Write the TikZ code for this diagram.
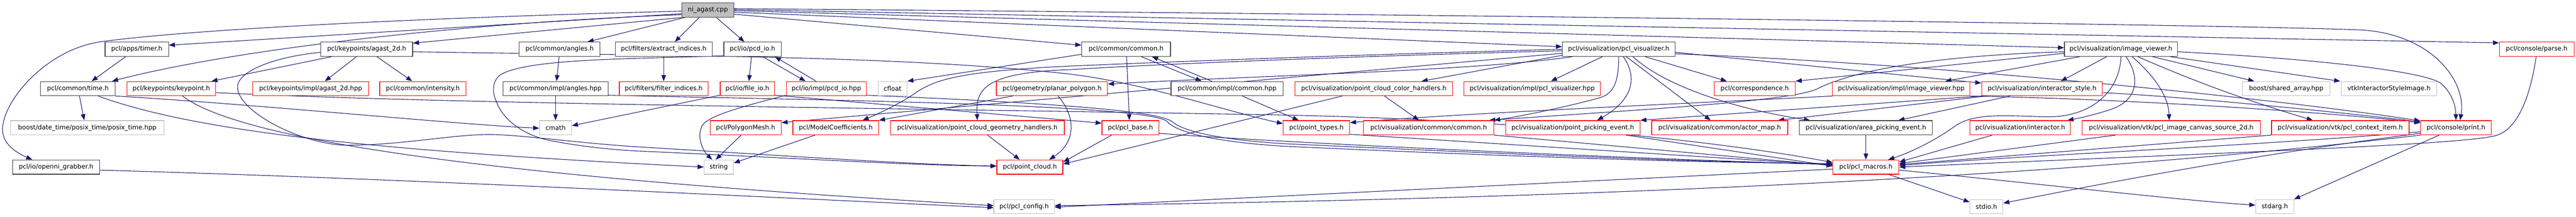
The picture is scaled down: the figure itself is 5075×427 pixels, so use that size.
\documentclass[tikz,border=0pt]{standalone}
\usepackage{fontspec}
\setmainfont{DejaVu Sans}
\usetikzlibrary{arrows.meta}
\pgfdeclarelayer{bg}
\pgfsetlayers{bg,main}
\definecolor{edgec}{HTML}{191970}
\definecolor{grayb}{HTML}{BFBFBF}
\definecolor{blkb}{HTML}{404040}
\tikzset{
 nd/.style={draw, rectangle, line width=1.2pt, minimum height=28pt, inner sep=0pt, fill=white, text=black, font=\fontsize{12.5pt}{14pt}\selectfont},
 blk/.style={nd, draw=blkb},
 redb/.style={nd, draw=red},
 gryb/.style={nd, draw=grayb},
 rootb/.style={nd, draw=blkb, fill=grayb},
 dep/.style={draw=edgec, line width=1.1pt, -{Triangle[length=12pt,width=9pt]}},
}
\begin{document}
\begin{tikzpicture}[x=1pt,y=-1pt]
\useasboundingbox (0,0) rectangle (5075,427);
% root
\node[rootb, minimum width=103pt] (R) at (1394.5,20) {ni\_agast.cpp};
% row 1
\node[blk, minimum width=125pt] (timer) at (269.5,97) {pcl/apps/timer.h};
\node[blk, minimum width=181pt] (agast2d) at (722.5,97) {pcl/keypoints/agast\_2d.h};
\node[blk, minimum width=159pt] (angles) at (1102.5,97) {pcl/common/angles.h};
\node[blk, minimum width=191pt] (extract) at (1307.5,97) {pcl/filters/extract\_indices.h};
\node[blk, minimum width=113pt] (pcdio) at (1482.5,97) {pcl/io/pcd\_io.h};
\node[blk, minimum width=175pt] (common) at (2218.5,97) {pcl/common/common.h};
\node[blk, minimum width=222pt] (pclvis) at (3189,97) {pcl/visualization/pcl\_visualizer.h};
\node[blk, minimum width=223pt] (imgview) at (4178.5,97) {pcl/visualization/image\_viewer.h};
\node[redb, minimum width=147pt] (parse) at (4997.5,97) {pcl/console/parse.h};
% row 2
\node[blk, minimum width=147pt] (time) at (153.5,174.5) {pcl/common/time.h};
\node[redb, minimum width=175pt] (keypoint) at (337.5,174.5) {pcl/keypoints/keypoint.h};
\node[redb, minimum width=228pt] (agasthpp) at (612,174.5) {pcl/keypoints/impl/agast\_2d.hpp};
\node[redb, minimum width=170pt] (intensity) at (833,174.5) {pcl/common/intensity.h};
\node[blk, minimum width=207pt] (angleshpp) at (1094.5,174.5) {pcl/common/impl/angles.hpp};
\node[redb, minimum width=175pt] (filterind) at (1307.5,174.5) {pcl/filters/filter\_indices.h};
\node[redb, minimum width=107pt] (fileio) at (1472.5,174.5) {pcl/io/file\_io.h};
\node[redb, minimum width=158pt] (pcdhpp) at (1628,174.5) {pcl/io/impl/pcd\_io.hpp};
\node[gryb, minimum width=57pt] (cfloat) at (1758.5,174.5) {cfloat};
\node[redb, minimum width=219pt] (planar) at (2072.5,174.5) {pcl/geometry/planar\_polygon.h};
\node[blk, minimum width=221pt] (commonhpp) at (2417.5,174.5) {pcl/common/impl/common.hpp};
\node[redb, minimum width=311pt] (colorh) at (2706.5,174.5) {pcl/visualization/point\_cloud\_color\_handlers.h};
\node[redb, minimum width=269pt] (vishpp) at (3018.5,174.5) {pcl/visualization/impl/pcl\_visualizer.hpp};
\node[redb, minimum width=160pt] (corresp) at (3457,174.5) {pcl/correspondence.h};
\node[redb, minimum width=271pt] (imghpp) at (3745.5,174.5) {pcl/visualization/impl/image\_viewer.hpp};
\node[redb, minimum width=238pt] (istyle) at (4023,174.5) {pcl/visualization/interactor\_style.h};
\node[gryb, minimum width=172pt] (sharr) at (4504,174.5) {boost/shared\_array.hpp};
\node[gryb, minimum width=187pt] (vtkisi) at (4706.5,174.5) {vtkInteractorStyleImage.h};
% row 3
\node[gryb, minimum width=302pt] (posix) at (172,251.5) {boost/date\_time/posix\_time/posix\_time.hpp};
\node[gryb, minimum width=63pt] (cmath) at (1094.5,251.5) {cmath};
\node[redb, minimum width=140pt] (polymesh) at (1469,251.5) {pcl/PolygonMesh.h};
\node[redb, minimum width=169pt] (modelcoef) at (1646.5,251.5) {pcl/ModelCoefficients.h};
\node[redb, minimum width=343pt] (geomh) at (1925.5,251.5) {pcl/visualization/point\_cloud\_geometry\_handlers.h};
\node[redb, minimum width=112pt] (pclbase) at (2227,251.5) {pcl/pcl\_base.h};
\node[redb, minimum width=131pt] (ptypes) at (2593.5,251.5) {pcl/point\_types.h};
\node[redb, minimum width=257pt] (viscommon) at (2814.5,251.5) {pcl/visualization/common/common.h};
\node[redb, minimum width=265pt] (pickev) at (3098.5,251.5) {pcl/visualization/point\_picking\_event.h};
\node[redb, minimum width=268pt] (actormap) at (3388,251.5) {pcl/visualization/common/actor\_map.h};
\node[blk, minimum width=262pt] (areapick) at (3676,251.5) {pcl/visualization/area\_picking\_event.h};
\node[redb, minimum width=198pt] (interactor) at (3980,251.5) {pcl/visualization/interactor.h};
\node[redb, minimum width=351pt] (canvas) at (4277.5,251.5) {pcl/visualization/vtk/pcl\_image\_canvas\_source\_2d.h};
\node[redb, minimum width=271pt] (ctxitem) at (4610.5,251.5) {pcl/visualization/vtk/pcl\_context\_item.h};
\node[redb, minimum width=139pt] (print) at (4838.5,251.5) {pcl/console/print.h};
% row 4
\node[blk, minimum width=171pt] (openni) at (110.5,329) {pcl/io/openni\_grabber.h};
\node[gryb, minimum width=58pt] (string) at (1416,329) {string};
\node[redb, minimum width=130pt] (ptcloud) at (2029,329) {pcl/point\_cloud.h};
\node[redb, minimum width=130pt] (macros) at (3676,329) {pcl/pcl\_macros.h};
% row 5
\node[gryb, minimum width=119pt] (config) at (2017.5,407) {pcl/pcl\_config.h};
\node[gryb, minimum width=65pt] (stdio) at (3913.5,407) {stdio.h};
\node[gryb, minimum width=75pt] (stdarg) at (4481.5,407) {stdarg.h};

\begin{pgfonlayer}{bg}
% root edges
\draw[dep] ([yshift=-7pt]R.west) -- ([yshift=8pt]timer.east);
\draw[dep] ([yshift=-9pt]R.west) .. controls (900,45) and (450,100) .. ([xshift=67pt]time.north);
\draw[dep] ([yshift=-2pt]R.west) .. controls (900,33) and (400,55) .. (200,82) .. controls (90,97) and (5,200) .. (5,255) .. controls (5,285) and (35,302) .. ([xshift=-47pt]openni.north);
\draw[dep] (R.south west) -- ([yshift=12pt]agast2d.east);
\draw[dep] ([xshift=6pt]R.south west) -- ([xshift=55pt]angles.north);
\draw[dep] ([xshift=-17pt]R.south) -- ([xshift=22pt]extract.north);
\draw[dep] ([xshift=17pt]R.south) -- ([xshift=-16pt]pcdio.north);
\draw[dep] ([yshift=-8pt]R.east) -- ([yshift=8pt]common.west);
\draw[dep] ([yshift=-4pt]R.east) -- ([yshift=5pt]pclvis.west);
\draw[dep] ([yshift=-1pt]R.east) -- ([yshift=3pt]imgview.west);
\draw[dep] ([yshift=1pt]R.east) -- ([yshift=-2pt]parse.north west);
\draw[dep] ([yshift=3pt]R.east) .. controls (3000,30) and (4450,50) .. (4650,59) .. controls (4790,66) and (4860,160) .. ([xshift=8pt]print.north);
% left part
\draw[dep] ([xshift=-22pt]timer.south) -- ([xshift=27pt]time.north);
\draw[dep] ([xshift=3pt]time.south) -- ([xshift=-6pt]posix.north);
\draw[dep] (time.south east) .. controls (500,205) and (900,245) .. ([yshift=-1pt]cmath.west);
\draw[dep] ([xshift=40pt]time.south) .. controls (400,265) and (800,300) .. (string.west);
\draw[dep] ([xshift=-69pt]agast2d.south) -- ([xshift=79pt]keypoint.north);
\draw[dep] ([xshift=-20pt]agast2d.south) -- ([xshift=28pt]agasthpp.north);
\draw[dep] ([xshift=20pt]agast2d.south) -- ([xshift=-21pt]intensity.north);
\draw[dep] ([yshift=-5pt]agast2d.east) .. controls (1300,110) and (1750,108) .. (2100,145) .. controls (2250,162) and (2400,215) .. ([yshift=8pt]ptypes.west);
\draw[dep] ([yshift=-6pt]agast2d.west) .. controls (540,112) and (470,140) .. (468,170) .. controls (466,220) and (600,288) .. (690,286) .. controls (800,285) and (900,263) .. (975,265) .. controls (1050,268) and (1150,283) .. (1270,290) .. controls (1600,310) and (1800,324) .. ([yshift=2pt]ptcloud.west);
\draw[dep] ([yshift=-13pt]pcdio.west) .. controls (1250,116) and (1050,115) .. (990,145) .. controls (970,155) and (968,180) .. (978,200) .. controls (990,235) and (1030,265) .. (1080,276) .. controls (1150,290) and (1220,296) .. (1270,298) .. controls (1600,313) and (1800,326) .. ([yshift=2pt]ptcloud.west);
\draw[dep] ([xshift=-2pt]pcdio.south) -- ([xshift=3pt]fileio.north);
\draw[dep] ([xshift=20pt]pcdio.south) -- ([xshift=-41pt]pcdhpp.north);
\draw[dep] ([xshift=-20pt]pcdhpp.north) -- ([xshift=44pt]pcdio.south);
\draw[dep] ([yshift=-13pt]pcdhpp.west) .. controls (1450,213) and (1390,230) .. (1382,250) .. controls (1372,275) and (1388,300) .. ([xshift=-13pt]string.north);
\draw[dep] ([yshift=-13pt]pcdhpp.east) .. controls (2000,200) and (2280,215) .. (2310,240) .. controls (2330,258) and (2400,275) .. (2530,283) .. controls (2900,300) and (3300,318) .. ([yshift=6pt]macros.west);
\draw[dep] (extract.south) -- (filterind.north);
\draw[dep] ([xshift=-1pt]angles.south) -- ([xshift=2pt]angleshpp.north);
\draw[dep] (angleshpp.south) -- (cmath.north);
\draw[dep] ([yshift=-13pt]angleshpp.east) .. controls (1600,197) and (2270,205) .. (2300,240) .. controls (2320,262) and (2400,280) .. (2530,288) .. controls (2900,305) and (3300,320) .. ([yshift=7pt]macros.west);
\draw[dep] ([yshift=-13pt]fileio.west) -- ([yshift=4pt]cmath.east);
\draw[dep] ([yshift=-13pt]fileio.east) -- ([yshift=9pt]pclbase.west);
\draw[dep] ([yshift=-8pt]keypoint.east) .. controls (900,205) and (1700,212) .. (2500,226) .. controls (3000,235) and (3400,280) .. ([yshift=9pt]macros.west);
\draw[dep] ([xshift=22pt]keypoint.south) .. controls (480,280) and (1000,350) .. ([yshift=2pt]config.west);
\draw[dep] ([yshift=-6pt]openni.east) .. controls (800,352) and (1500,388) .. ([yshift=-2pt]config.west);
% common
\draw[dep] ([xshift=30pt]common.south) -- ([xshift=-50pt]commonhpp.north);
\draw[dep] ([xshift=-30pt]commonhpp.north) -- ([xshift=51pt]common.south);
\draw[dep] ([xshift=1pt]common.south) -- ([xshift=-2pt]pclbase.north);
\draw[dep] ([yshift=-10pt]common.west) -- (cfloat.north east);
\draw[dep] ([xshift=30pt]commonhpp.south) -- ([xshift=-35pt]ptypes.north);
% pcl_visualizer
\draw[dep] ([xshift=-32pt]pclvis.south) -- ([xshift=37pt]vishpp.north);
\draw[dep] (pclvis.south) .. controls (3189,160) and (3180,185) .. (3150,193) .. controls (3080,212) and (3000,228) .. (viscommon.north east);
\draw[dep] ([xshift=9pt]pclvis.south) .. controls (3225,150) and (3220,195) .. ([xshift=48pt]pickev.north);
\draw[dep] ([xshift=15pt]pclvis.south) -- ([xshift=-18pt]actormap.north);
\draw[dep] ([xshift=28pt]pclvis.south) .. controls (3280,170) and (3420,215) .. ([xshift=-110pt]areapick.north);
\draw[dep] ([xshift=52pt]pclvis.south) -- ([xshift=-55pt]corresp.north);
\draw[dep] ([yshift=-6pt]pclvis.east) -- ([yshift=11pt]istyle.west);
\draw[dep] ([yshift=-9pt]pclvis.east) .. controls (3800,125) and (4450,190) .. ([yshift=-1pt]print.north west);
\draw[dep] ([xshift=-91pt]pclvis.south) .. controls (2900,140) and (2500,148) .. ([yshift=9pt]planar.east);
\draw[dep] ([yshift=-12pt]pclvis.west) -- ([xshift=94pt]colorh.north);
\draw[dep] ([yshift=-3pt]pclvis.west) .. controls (2700,110) and (2300,125) .. (2110,137) .. controls (1940,143) and (1922,175) .. (geomh.north);
\draw[dep] (pclvis.west) .. controls (2600,110) and (2300,122) .. (2110,130) .. controls (1900,140) and (1845,155) .. (1805,182) .. controls (1775,203) and (1735,222) .. ([xshift=53pt]modelcoef.north);
\draw[dep] ([yshift=-8pt]pclvis.west) -- ([yshift=10pt]polymesh.east);
% middle
\draw[dep] ([xshift=-77pt]planar.south) -- (modelcoef.north east);
\draw[dep] ([xshift=12pt]planar.south) .. controls (2120,230) and (2120,280) .. ([xshift=38pt]ptcloud.north);
\draw[dep] ([xshift=20pt]geomh.south) -- ([xshift=-20pt]ptcloud.north);
\draw[dep] ([xshift=-37pt]pclbase.south) -- ([yshift=10pt]ptcloud.east);
\draw[dep] ([xshift=-62pt]colorh.south) -- ([yshift=6pt]ptcloud.east);
\draw[dep] ([xshift=21pt]colorh.south) -- ([xshift=-19pt]viscommon.north);
\draw[dep] ([xshift=-9pt]polymesh.south) -- ([xshift=-6pt]string.north);
\draw[dep] ([xshift=-41pt]modelcoef.south) -- ([yshift=8pt]string.east);
% into pcl_macros
\draw[dep] ([yshift=-11pt]pclbase.east) .. controls (2500,280) and (3200,312) .. ([yshift=5pt]macros.west);
\draw[dep] ([yshift=-13pt]ptypes.east) -- ([yshift=4pt]macros.west);
\draw[dep] (viscommon.south east) -- ([yshift=3pt]macros.west);
\draw[dep] ([xshift=105pt]pickev.south) -- ([yshift=2pt]macros.west);
\draw[dep] ([xshift=-55pt]interactor.south) -- ([yshift=10pt]macros.east);
\draw[dep] ([xshift=-110pt]canvas.south) -- ([yshift=7pt]macros.east);
\draw[dep] (ctxitem.south west) -- ([yshift=5pt]macros.east);
\draw[dep] ([yshift=-8pt]print.west) .. controls (4400,290) and (4000,305) .. ([yshift=3pt]macros.east);
\draw[dep] ([xshift=-1pt]parse.south) .. controls (4985,190) and (4960,255) .. (4917,267) .. controls (4850,285) and (4400,300) .. (macros.east);
\draw[dep] (areapick.south) -- (macros.north);
\draw[dep] (imgview.south) .. controls (4176,180) and (4120,232) .. (4030,230) .. controls (3950,228) and (3890,222) .. (3852,248) .. controls (3815,275) and (3765,300) .. ([xshift=44pt]macros.north);
% out of pcl_macros and print
\draw[dep] ([yshift=-4pt]macros.west) -- ([yshift=-1pt]config.east);
\draw[dep] ([xshift=45pt]macros.south) -- ([yshift=9pt]stdio.west);
\draw[dep] ([yshift=-6pt]macros.east) .. controls (4000,360) and (4300,395) .. ([yshift=3pt]stdarg.west);
\draw[dep] ([yshift=-11pt]print.west) .. controls (4400,310) and (4100,370) .. ([yshift=7pt]stdio.east);
\draw[dep] ([xshift=-33pt]print.south) -- (stdarg.north east);
\draw[dep] (print.south west) .. controls (4100,345) and (3200,390) .. ([yshift=2pt]config.east);
% interactor_style
\draw[dep] ([xshift=-63pt]istyle.south) -- ([xshift=64pt]areapick.north);
\draw[dep] ([xshift=10pt]istyle.south west) -- ([xshift=115pt]actormap.north);
\draw[dep] (istyle.south west) -- (pickev.north east);
\draw[dep] ([yshift=-8pt]istyle.east) .. controls (4300,190) and (4600,220) .. ([yshift=-3pt]print.north west);
% image_viewer.hpp
\draw[dep] ([xshift=-135pt]imghpp.south) .. controls (3300,205) and (2900,222) .. ([yshift=10pt]ptypes.east);
\draw[dep] (imghpp.south east) .. controls (4200,195) and (4600,222) .. ([yshift=-5pt]print.north west);
% image_viewer
\draw[dep] ([yshift=-5pt]imgview.west) .. controls (3800,110) and (3650,140) .. (3580,175) .. controls (3530,200) and (3200,218) .. ([xshift=-10pt]viscommon.north east);
\draw[dep] ([yshift=-8pt]imgview.west) -- (corresp.north east);
\draw[dep] ([xshift=-81pt]imgview.south) -- ([xshift=87pt]imghpp.north);
\draw[dep] ([xshift=-28pt]imgview.south) -- ([xshift=37pt]istyle.north);
\draw[dep] ([xshift=10pt]imgview.south) .. controls (4215,150) and (4215,195) .. (4160,215) .. controls (4130,225) and (4100,232) .. ([xshift=93pt]interactor.north);
\draw[dep] ([xshift=22pt]imgview.south) .. controls (4245,150) and (4272,190) .. ([xshift=-4pt]canvas.north);
\draw[dep] ([xshift=33pt]imgview.south) .. controls (4300,150) and (4400,190) .. ([xshift=-54pt]ctxitem.north);
\draw[dep] ([xshift=62pt]imgview.south) -- ([xshift=-63pt]sharr.north);
\draw[dep] ([xshift=97pt]imgview.south) -- ([xshift=-96pt]vtkisi.north);
\draw[dep] ([yshift=-5pt]imgview.east) .. controls (4550,115) and (4780,140) .. (4810,165) .. controls (4832,185) and (4838,210) .. (print.north);
\end{pgfonlayer}
\end{tikzpicture}
\end{document}
